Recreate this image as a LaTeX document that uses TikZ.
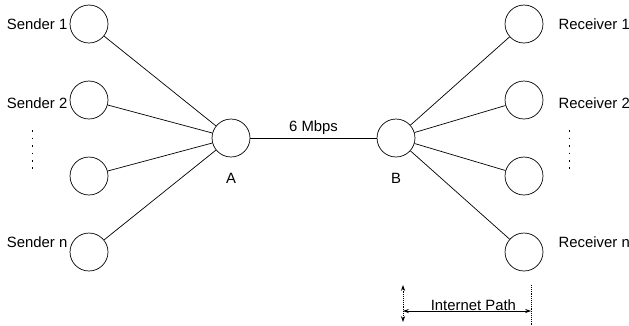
\documentclass[tikz,border=0pt]{standalone}
\usepackage{fontspec}
\setmainfont{Liberation Sans}
\usetikzlibrary{positioning, arrows.meta}

\begin{document}
\begin{tikzpicture}[x=0.03cm,y=-0.03cm,line width=0.6pt,>={Stealth[length=5pt,width=3.5pt]},
    host/.style={draw,circle,minimum size=32.4pt,inner sep=0pt},
    tag/.style={inner sep=0pt,font=\fontsize{12.7}{15}\selectfont},
    vdots/.style={dash pattern=on 1.3pt off 5.1pt},
    ]
    \useasboundingbox (0,0) rectangle (629,325);
    % hosts on the left
    \node[host] (S1) at (89,24){};
    \node[host] (S2) at (89,100){};
    \node[host] (S3) at (89,176){};
    \node[host] (Sn) at (89,252){};
    % hosts on the right
    \node[host] (R1) at (524,24){};
    \node[host] (R2) at (524,100){};
    \node[host] (R3) at (524,176){};
    \node[host] (Rn) at (524,252){};
    % routers
    \node[host] (A) at (231,138){};
    \node[host] (B) at (396,138){};
    \node[tag,left=1.7pt of S1] (S1lab){Sender 1};
    \node[tag,left=1.7pt of S2,yshift=-2.6pt] (S2lab){Sender 2};
    \node[tag,left=1.7pt of Sn,yshift=8.5pt] (Snlab){Sender n};
    \node[tag,right=12.8pt of R1] (R1lab){Receiver 1};
    \node[tag,right=12.8pt of R2,yshift=-2.6pt] (R2lab){Receiver 2};
    \node[tag,right=12.8pt of Rn,yshift=8.5pt] (Rnlab){Receiver n};
    \node[tag,below=13.7pt of A] (Alab){A};
    \node[tag,below=13.7pt of B] (Blab){B};
    \draw (S1)--(A);
    \draw (S2)--(A);
    \draw (S3)--(A);
    \draw (Sn)--(A);
    \draw (B)--(R1);
    \draw (B)--(R2);
    \draw (B)--(R3);
    \draw (B)--(Rn);
    \draw (A)--node[tag,above=2.3pt]{6 Mbps}(B);
    % elided hosts
    \draw[vdots] (32,130)--(32,174);
    \draw[vdots] (569,130)--(569,174);
    % path span
    \coordinate (P1) at (403,285);
    \coordinate (P2) at (403,322);
    \coordinate (P3) at (531,285);
    \coordinate (P4) at (531,325);
    \coordinate (L) at (403,311);
    \coordinate (R) at (531,311);
    \draw[<->,densely dotted] (P1)--(P2);
    \draw[densely dotted] (P3)--(P4);
    \draw[<->] (L)--node[tag,pos=0.55,above=0.3pt]{Internet Path}(R);
\end{tikzpicture}
\end{document}
